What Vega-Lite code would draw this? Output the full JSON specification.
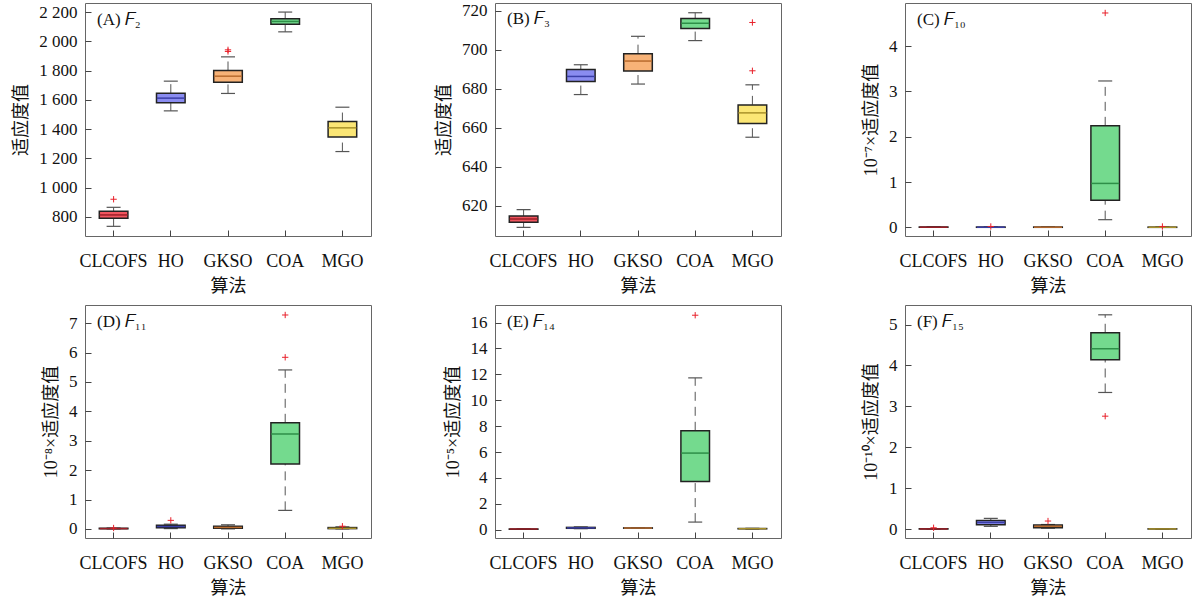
{
"$schema": "https://vega.github.io/schema/vega-lite/v6.json",
"padding": {"left": 12, "top": 1, "right": 5, "bottom": 5},
"background": "white",
"datasets": {
"boxes": [
{"panel":"A","algo":"CLCOFS","lower":736,"q1":791,"median":814,"q3":839,"upper":866},
{"panel":"A","algo":"HO","lower":1525,"q1":1580,"median":1612,"q3":1646,"upper":1728},
{"panel":"A","algo":"GKSO","lower":1644,"q1":1721,"median":1762,"q3":1801,"upper":1894},
{"panel":"A","algo":"COA","lower":2065,"q1":2116,"median":2136,"q3":2154,"upper":2200},
{"panel":"A","algo":"MGO","lower":1247,"q1":1347,"median":1409,"q3":1452,"upper":1550},
{"panel":"B","algo":"CLCOFS","lower":608.8,"q1":611.4,"median":613.1,"q3":614.7,"upper":617.9},
{"panel":"B","algo":"HO","lower":677.0,"q1":683.7,"median":686.3,"q3":689.9,"upper":692.3},
{"panel":"B","algo":"GKSO","lower":682.4,"q1":689.1,"median":694.2,"q3":698.0,"upper":706.9},
{"panel":"B","algo":"COA","lower":704.7,"q1":710.9,"median":713.6,"q3":716.0,"upper":719.0},
{"panel":"B","algo":"MGO","lower":655.1,"q1":662.1,"median":667.6,"q3":671.7,"upper":682.0},
{"panel":"C","algo":"CLCOFS","lower":0,"q1":0.002,"median":0.004,"q3":0.008,"upper":0.012},
{"panel":"C","algo":"HO","lower":0,"q1":0.002,"median":0.004,"q3":0.008,"upper":0.012},
{"panel":"C","algo":"GKSO","lower":0,"q1":0.002,"median":0.004,"q3":0.008,"upper":0.012},
{"panel":"C","algo":"COA","lower":0.17,"q1":0.60,"median":0.97,"q3":2.24,"upper":3.23},
{"panel":"C","algo":"MGO","lower":0,"q1":0.001,"median":0.003,"q3":0.006,"upper":0.01},
{"panel":"D","algo":"CLCOFS","lower":0,"q1":0.005,"median":0.01,"q3":0.02,"upper":0.03},
{"panel":"D","algo":"HO","lower":0.01,"q1":0.04,"median":0.08,"q3":0.12,"upper":0.16},
{"panel":"D","algo":"GKSO","lower":0,"q1":0.02,"median":0.05,"q3":0.09,"upper":0.14},
{"panel":"D","algo":"COA","lower":0.63,"q1":2.21,"median":3.23,"q3":3.61,"upper":5.41},
{"panel":"D","algo":"MGO","lower":0,"q1":0.01,"median":0.02,"q3":0.045,"upper":0.07},
{"panel":"E","algo":"CLCOFS","lower":0.02,"q1":0.04,"median":0.05,"q3":0.06,"upper":0.08},
{"panel":"E","algo":"HO","lower":0.08,"q1":0.11,"median":0.14,"q3":0.18,"upper":0.22},
{"panel":"E","algo":"GKSO","lower":0.1,"q1":0.12,"median":0.13,"q3":0.14,"upper":0.16},
{"panel":"E","algo":"COA","lower":0.59,"q1":3.73,"median":5.92,"q3":7.64,"upper":11.73},
{"panel":"E","algo":"MGO","lower":0.05,"q1":0.07,"median":0.08,"q3":0.09,"upper":0.11},
{"panel":"F","algo":"CLCOFS","lower":0,"q1":0.001,"median":0.002,"q3":0.004,"upper":0.006},
{"panel":"F","algo":"HO","lower":0.065,"q1":0.106,"median":0.16,"q3":0.21,"upper":0.26},
{"panel":"F","algo":"GKSO","lower":0.02,"q1":0.033,"median":0.065,"q3":0.098,"upper":0.11},
{"panel":"F","algo":"COA","lower":3.34,"q1":4.14,"median":4.41,"q3":4.80,"upper":5.24},
{"panel":"F","algo":"MGO","lower":0,"q1":0.001,"median":0.002,"q3":0.003,"upper":0.004}
],
"outliers": [
{"panel":"A","algo":"CLCOFS","value":921},
{"panel":"A","algo":"GKSO","value":1942},
{"panel":"A","algo":"GKSO","value":1931},
{"panel":"B","algo":"MGO","value":714.0},
{"panel":"B","algo":"MGO","value":689.2},
{"panel":"C","algo":"HO","value":0.02},
{"panel":"C","algo":"COA","value":4.73},
{"panel":"C","algo":"MGO","value":0.02},
{"panel":"D","algo":"CLCOFS","value":0.03},
{"panel":"D","algo":"HO","value":0.29},
{"panel":"D","algo":"COA","value":7.28},
{"panel":"D","algo":"COA","value":5.84},
{"panel":"D","algo":"MGO","value":0.09},
{"panel":"E","algo":"COA","value":16.57},
{"panel":"F","algo":"CLCOFS","value":0.03},
{"panel":"F","algo":"GKSO","value":0.195},
{"panel":"F","algo":"COA","value":2.76}
]
},
"columns": 3,
"spacing": {"row": 69, "column": 124},
"bounds": "flush",
"concat": [
{
"width": 286, "height": 233,
"title": {"text": "(A) 𝐹₂"},
"data": {"name": "boxes"},
"transform": [{"filter": "datum.panel === 'A'"}],
"encoding": {"x": {"field": "algo", "type": "nominal", "title": "算法", "scale": {"domain": ["CLCOFS","HO","GKSO","COA","MGO"], "paddingInner": 0, "paddingOuter": 0}}},
"layer": [
{"mark": {"type": "rule", "color": "#555", "strokeDash": [9,6], "strokeWidth": 1}, "encoding": {"y": {"field": "lower", "type": "quantitative", "scale": {"domain": [670, 2262], "nice": false, "zero": false}, "axis": {"values": [800,1000,1200,1400,1600,1800,2000,2200], "labelExpr": "replace(format(datum.value, ','), ',', ' ')"}, "title": "适应度值"}, "y2": {"field": "q1"}}},
{"mark": {"type": "rule", "color": "#555", "strokeDash": [9,6], "strokeWidth": 1}, "encoding": {"y": {"field": "q3", "type": "quantitative", "scale": {"domain": [670, 2262], "nice": false, "zero": false}, "axis": {"values": [800,1000,1200,1400,1600,1800,2000,2200], "labelExpr": "replace(format(datum.value, ','), ',', ' ')"}, "title": "适应度值"}, "y2": {"field": "upper"}}},
{"mark": {"type": "tick", "color": "#555", "size": 14, "thickness": 1.2, "opacity": 1}, "encoding": {"y": {"field": "lower", "type": "quantitative", "scale": {"domain": [670, 2262], "nice": false, "zero": false}, "axis": {"values": [800,1000,1200,1400,1600,1800,2000,2200], "labelExpr": "replace(format(datum.value, ','), ',', ' ')"}, "title": "适应度值"}}},
{"mark": {"type": "tick", "color": "#555", "size": 14, "thickness": 1.2, "opacity": 1}, "encoding": {"y": {"field": "upper", "type": "quantitative", "scale": {"domain": [670, 2262], "nice": false, "zero": false}, "axis": {"values": [800,1000,1200,1400,1600,1800,2000,2200], "labelExpr": "replace(format(datum.value, ','), ',', ' ')"}, "title": "适应度值"}}},
{"mark": {"type": "bar", "width": {"band": 0.5}, "stroke": "#222", "strokeWidth": 1.5, "opacity": 1}, "encoding": {"y": {"field": "q1", "type": "quantitative", "scale": {"domain": [670, 2262], "nice": false, "zero": false}, "axis": {"values": [800,1000,1200,1400,1600,1800,2000,2200], "labelExpr": "replace(format(datum.value, ','), ',', ' ')"}, "title": "适应度值"}, "y2": {"field": "q3"}, "fill": {"field": "algo", "type": "nominal", "scale": {"domain": ["CLCOFS","HO","GKSO","COA","MGO"], "range": ["#F0555F","#8A8CF0","#F7B277","#74DA8E","#FBE675"]}, "legend": null}}},
{"mark": {"type": "tick", "size": 28, "thickness": 1.5, "opacity": 1}, "encoding": {"y": {"field": "median", "type": "quantitative", "scale": {"domain": [670, 2262], "nice": false, "zero": false}, "axis": {"values": [800,1000,1200,1400,1600,1800,2000,2200], "labelExpr": "replace(format(datum.value, ','), ',', ' ')"}, "title": "适应度值"}, "color": {"field": "algo", "type": "nominal", "scale": {"domain": ["CLCOFS","HO","GKSO","COA","MGO"], "range": ["#9E1F27","#3B3FA8","#B86B2E","#2E8F48","#A8912A"]}, "legend": null}}},
{"data": {"name": "outliers"}, "transform": [{"filter": "datum.panel === 'A'"}], "mark": {"type": "point", "shape": "M-1,0H1M0,-1V1", "size": 40, "filled": false, "stroke": "#E8202A", "strokeWidth": 1, "opacity": 1}, "encoding": {"y": {"field": "value", "type": "quantitative", "scale": {"domain": [670, 2262], "nice": false, "zero": false}, "axis": {"values": [800,1000,1200,1400,1600,1800,2000,2200], "labelExpr": "replace(format(datum.value, ','), ',', ' ')"}, "title": "适应度值"}}}
]
},
{
"width": 286, "height": 233,
"title": {"text": "(B) 𝐹₃"},
"data": {"name": "boxes"},
"transform": [{"filter": "datum.panel === 'B'"}],
"encoding": {"x": {"field": "algo", "type": "nominal", "title": "算法", "scale": {"domain": ["CLCOFS","HO","GKSO","COA","MGO"], "paddingInner": 0, "paddingOuter": 0}}},
"layer": [
{"mark": {"type": "rule", "color": "#555", "strokeDash": [9,6], "strokeWidth": 1}, "encoding": {"y": {"field": "lower", "type": "quantitative", "scale": {"domain": [604.4, 724], "nice": false, "zero": false}, "axis": {"values": [620,640,660,680,700,720]}, "title": "适应度值"}, "y2": {"field": "q1"}}},
{"mark": {"type": "rule", "color": "#555", "strokeDash": [9,6], "strokeWidth": 1}, "encoding": {"y": {"field": "q3", "type": "quantitative", "scale": {"domain": [604.4, 724], "nice": false, "zero": false}, "axis": {"values": [620,640,660,680,700,720]}, "title": "适应度值"}, "y2": {"field": "upper"}}},
{"mark": {"type": "tick", "color": "#555", "size": 14, "thickness": 1.2, "opacity": 1}, "encoding": {"y": {"field": "lower", "type": "quantitative", "scale": {"domain": [604.4, 724], "nice": false, "zero": false}, "axis": {"values": [620,640,660,680,700,720]}, "title": "适应度值"}}},
{"mark": {"type": "tick", "color": "#555", "size": 14, "thickness": 1.2, "opacity": 1}, "encoding": {"y": {"field": "upper", "type": "quantitative", "scale": {"domain": [604.4, 724], "nice": false, "zero": false}, "axis": {"values": [620,640,660,680,700,720]}, "title": "适应度值"}}},
{"mark": {"type": "bar", "width": {"band": 0.5}, "stroke": "#222", "strokeWidth": 1.5, "opacity": 1}, "encoding": {"y": {"field": "q1", "type": "quantitative", "scale": {"domain": [604.4, 724], "nice": false, "zero": false}, "axis": {"values": [620,640,660,680,700,720]}, "title": "适应度值"}, "y2": {"field": "q3"}, "fill": {"field": "algo", "type": "nominal", "scale": {"domain": ["CLCOFS","HO","GKSO","COA","MGO"], "range": ["#F0555F","#8A8CF0","#F7B277","#74DA8E","#FBE675"]}, "legend": null}}},
{"mark": {"type": "tick", "size": 28, "thickness": 1.5, "opacity": 1}, "encoding": {"y": {"field": "median", "type": "quantitative", "scale": {"domain": [604.4, 724], "nice": false, "zero": false}, "axis": {"values": [620,640,660,680,700,720]}, "title": "适应度值"}, "color": {"field": "algo", "type": "nominal", "scale": {"domain": ["CLCOFS","HO","GKSO","COA","MGO"], "range": ["#9E1F27","#3B3FA8","#B86B2E","#2E8F48","#A8912A"]}, "legend": null}}},
{"data": {"name": "outliers"}, "transform": [{"filter": "datum.panel === 'B'"}], "mark": {"type": "point", "shape": "M-1,0H1M0,-1V1", "size": 40, "filled": false, "stroke": "#E8202A", "strokeWidth": 1, "opacity": 1}, "encoding": {"y": {"field": "value", "type": "quantitative", "scale": {"domain": [604.4, 724], "nice": false, "zero": false}, "axis": {"values": [620,640,660,680,700,720]}, "title": "适应度值"}}}
]
},
{
"width": 286, "height": 233,
"title": {"text": "(C) 𝐹₁₀"},
"data": {"name": "boxes"},
"transform": [{"filter": "datum.panel === 'C'"}],
"encoding": {"x": {"field": "algo", "type": "nominal", "title": "算法", "scale": {"domain": ["CLCOFS","HO","GKSO","COA","MGO"], "paddingInner": 0, "paddingOuter": 0}}},
"layer": [
{"mark": {"type": "rule", "color": "#555", "strokeDash": [9,6], "strokeWidth": 1}, "encoding": {"y": {"field": "lower", "type": "quantitative", "scale": {"domain": [-0.19, 4.95], "nice": false, "zero": false}, "axis": {"values": [0,1,2,3,4]}, "title": "10⁻⁷×适应度值"}, "y2": {"field": "q1"}}},
{"mark": {"type": "rule", "color": "#555", "strokeDash": [9,6], "strokeWidth": 1}, "encoding": {"y": {"field": "q3", "type": "quantitative", "scale": {"domain": [-0.19, 4.95], "nice": false, "zero": false}, "axis": {"values": [0,1,2,3,4]}, "title": "10⁻⁷×适应度值"}, "y2": {"field": "upper"}}},
{"mark": {"type": "tick", "color": "#555", "size": 14, "thickness": 1.2, "opacity": 1}, "encoding": {"y": {"field": "lower", "type": "quantitative", "scale": {"domain": [-0.19, 4.95], "nice": false, "zero": false}, "axis": {"values": [0,1,2,3,4]}, "title": "10⁻⁷×适应度值"}}},
{"mark": {"type": "tick", "color": "#555", "size": 14, "thickness": 1.2, "opacity": 1}, "encoding": {"y": {"field": "upper", "type": "quantitative", "scale": {"domain": [-0.19, 4.95], "nice": false, "zero": false}, "axis": {"values": [0,1,2,3,4]}, "title": "10⁻⁷×适应度值"}}},
{"mark": {"type": "bar", "width": {"band": 0.5}, "stroke": "#222", "strokeWidth": 1.5, "opacity": 1}, "encoding": {"y": {"field": "q1", "type": "quantitative", "scale": {"domain": [-0.19, 4.95], "nice": false, "zero": false}, "axis": {"values": [0,1,2,3,4]}, "title": "10⁻⁷×适应度值"}, "y2": {"field": "q3"}, "fill": {"field": "algo", "type": "nominal", "scale": {"domain": ["CLCOFS","HO","GKSO","COA","MGO"], "range": ["#F0555F","#8A8CF0","#F7B277","#74DA8E","#FBE675"]}, "legend": null}}},
{"mark": {"type": "tick", "size": 28, "thickness": 1.5, "opacity": 1}, "encoding": {"y": {"field": "median", "type": "quantitative", "scale": {"domain": [-0.19, 4.95], "nice": false, "zero": false}, "axis": {"values": [0,1,2,3,4]}, "title": "10⁻⁷×适应度值"}, "color": {"field": "algo", "type": "nominal", "scale": {"domain": ["CLCOFS","HO","GKSO","COA","MGO"], "range": ["#9E1F27","#3B3FA8","#B86B2E","#2E8F48","#A8912A"]}, "legend": null}}},
{"data": {"name": "outliers"}, "transform": [{"filter": "datum.panel === 'C'"}], "mark": {"type": "point", "shape": "M-1,0H1M0,-1V1", "size": 40, "filled": false, "stroke": "#E8202A", "strokeWidth": 1, "opacity": 1}, "encoding": {"y": {"field": "value", "type": "quantitative", "scale": {"domain": [-0.19, 4.95], "nice": false, "zero": false}, "axis": {"values": [0,1,2,3,4]}, "title": "10⁻⁷×适应度值"}}}
]
},
{
"width": 286, "height": 233,
"title": {"text": "(D) 𝐹₁₁"},
"data": {"name": "boxes"},
"transform": [{"filter": "datum.panel === 'D'"}],
"encoding": {"x": {"field": "algo", "type": "nominal", "title": "算法", "scale": {"domain": ["CLCOFS","HO","GKSO","COA","MGO"], "paddingInner": 0, "paddingOuter": 0}}},
"layer": [
{"mark": {"type": "rule", "color": "#555", "strokeDash": [9,6], "strokeWidth": 1}, "encoding": {"y": {"field": "lower", "type": "quantitative", "scale": {"domain": [-0.31, 7.62], "nice": false, "zero": false}, "axis": {"values": [0,1,2,3,4,5,6,7]}, "title": "10⁻⁸×适应度值"}, "y2": {"field": "q1"}}},
{"mark": {"type": "rule", "color": "#555", "strokeDash": [9,6], "strokeWidth": 1}, "encoding": {"y": {"field": "q3", "type": "quantitative", "scale": {"domain": [-0.31, 7.62], "nice": false, "zero": false}, "axis": {"values": [0,1,2,3,4,5,6,7]}, "title": "10⁻⁸×适应度值"}, "y2": {"field": "upper"}}},
{"mark": {"type": "tick", "color": "#555", "size": 14, "thickness": 1.2, "opacity": 1}, "encoding": {"y": {"field": "lower", "type": "quantitative", "scale": {"domain": [-0.31, 7.62], "nice": false, "zero": false}, "axis": {"values": [0,1,2,3,4,5,6,7]}, "title": "10⁻⁸×适应度值"}}},
{"mark": {"type": "tick", "color": "#555", "size": 14, "thickness": 1.2, "opacity": 1}, "encoding": {"y": {"field": "upper", "type": "quantitative", "scale": {"domain": [-0.31, 7.62], "nice": false, "zero": false}, "axis": {"values": [0,1,2,3,4,5,6,7]}, "title": "10⁻⁸×适应度值"}}},
{"mark": {"type": "bar", "width": {"band": 0.5}, "stroke": "#222", "strokeWidth": 1.5, "opacity": 1}, "encoding": {"y": {"field": "q1", "type": "quantitative", "scale": {"domain": [-0.31, 7.62], "nice": false, "zero": false}, "axis": {"values": [0,1,2,3,4,5,6,7]}, "title": "10⁻⁸×适应度值"}, "y2": {"field": "q3"}, "fill": {"field": "algo", "type": "nominal", "scale": {"domain": ["CLCOFS","HO","GKSO","COA","MGO"], "range": ["#F0555F","#8A8CF0","#F7B277","#74DA8E","#FBE675"]}, "legend": null}}},
{"mark": {"type": "tick", "size": 28, "thickness": 1.5, "opacity": 1}, "encoding": {"y": {"field": "median", "type": "quantitative", "scale": {"domain": [-0.31, 7.62], "nice": false, "zero": false}, "axis": {"values": [0,1,2,3,4,5,6,7]}, "title": "10⁻⁸×适应度值"}, "color": {"field": "algo", "type": "nominal", "scale": {"domain": ["CLCOFS","HO","GKSO","COA","MGO"], "range": ["#9E1F27","#3B3FA8","#B86B2E","#2E8F48","#A8912A"]}, "legend": null}}},
{"data": {"name": "outliers"}, "transform": [{"filter": "datum.panel === 'D'"}], "mark": {"type": "point", "shape": "M-1,0H1M0,-1V1", "size": 40, "filled": false, "stroke": "#E8202A", "strokeWidth": 1, "opacity": 1}, "encoding": {"y": {"field": "value", "type": "quantitative", "scale": {"domain": [-0.31, 7.62], "nice": false, "zero": false}, "axis": {"values": [0,1,2,3,4,5,6,7]}, "title": "10⁻⁸×适应度值"}}}
]
},
{
"width": 286, "height": 233,
"title": {"text": "(E) 𝐹₁₄"},
"data": {"name": "boxes"},
"transform": [{"filter": "datum.panel === 'E'"}],
"encoding": {"x": {"field": "algo", "type": "nominal", "title": "算法", "scale": {"domain": ["CLCOFS","HO","GKSO","COA","MGO"], "paddingInner": 0, "paddingOuter": 0}}},
"layer": [
{"mark": {"type": "rule", "color": "#555", "strokeDash": [9,6], "strokeWidth": 1}, "encoding": {"y": {"field": "lower", "type": "quantitative", "scale": {"domain": [-0.64, 17.36], "nice": false, "zero": false}, "axis": {"values": [0,2,4,6,8,10,12,14,16]}, "title": "10⁻⁵×适应度值"}, "y2": {"field": "q1"}}},
{"mark": {"type": "rule", "color": "#555", "strokeDash": [9,6], "strokeWidth": 1}, "encoding": {"y": {"field": "q3", "type": "quantitative", "scale": {"domain": [-0.64, 17.36], "nice": false, "zero": false}, "axis": {"values": [0,2,4,6,8,10,12,14,16]}, "title": "10⁻⁵×适应度值"}, "y2": {"field": "upper"}}},
{"mark": {"type": "tick", "color": "#555", "size": 14, "thickness": 1.2, "opacity": 1}, "encoding": {"y": {"field": "lower", "type": "quantitative", "scale": {"domain": [-0.64, 17.36], "nice": false, "zero": false}, "axis": {"values": [0,2,4,6,8,10,12,14,16]}, "title": "10⁻⁵×适应度值"}}},
{"mark": {"type": "tick", "color": "#555", "size": 14, "thickness": 1.2, "opacity": 1}, "encoding": {"y": {"field": "upper", "type": "quantitative", "scale": {"domain": [-0.64, 17.36], "nice": false, "zero": false}, "axis": {"values": [0,2,4,6,8,10,12,14,16]}, "title": "10⁻⁵×适应度值"}}},
{"mark": {"type": "bar", "width": {"band": 0.5}, "stroke": "#222", "strokeWidth": 1.5, "opacity": 1}, "encoding": {"y": {"field": "q1", "type": "quantitative", "scale": {"domain": [-0.64, 17.36], "nice": false, "zero": false}, "axis": {"values": [0,2,4,6,8,10,12,14,16]}, "title": "10⁻⁵×适应度值"}, "y2": {"field": "q3"}, "fill": {"field": "algo", "type": "nominal", "scale": {"domain": ["CLCOFS","HO","GKSO","COA","MGO"], "range": ["#F0555F","#8A8CF0","#F7B277","#74DA8E","#FBE675"]}, "legend": null}}},
{"mark": {"type": "tick", "size": 28, "thickness": 1.5, "opacity": 1}, "encoding": {"y": {"field": "median", "type": "quantitative", "scale": {"domain": [-0.64, 17.36], "nice": false, "zero": false}, "axis": {"values": [0,2,4,6,8,10,12,14,16]}, "title": "10⁻⁵×适应度值"}, "color": {"field": "algo", "type": "nominal", "scale": {"domain": ["CLCOFS","HO","GKSO","COA","MGO"], "range": ["#9E1F27","#3B3FA8","#B86B2E","#2E8F48","#A8912A"]}, "legend": null}}},
{"data": {"name": "outliers"}, "transform": [{"filter": "datum.panel === 'E'"}], "mark": {"type": "point", "shape": "M-1,0H1M0,-1V1", "size": 40, "filled": false, "stroke": "#E8202A", "strokeWidth": 1, "opacity": 1}, "encoding": {"y": {"field": "value", "type": "quantitative", "scale": {"domain": [-0.64, 17.36], "nice": false, "zero": false}, "axis": {"values": [0,2,4,6,8,10,12,14,16]}, "title": "10⁻⁵×适应度值"}}}
]
},
{
"width": 286, "height": 233,
"title": {"text": "(F) 𝐹₁₅"},
"data": {"name": "boxes"},
"transform": [{"filter": "datum.panel === 'F'"}],
"encoding": {"x": {"field": "algo", "type": "nominal", "title": "算法", "scale": {"domain": ["CLCOFS","HO","GKSO","COA","MGO"], "paddingInner": 0, "paddingOuter": 0}}},
"layer": [
{"mark": {"type": "rule", "color": "#555", "strokeDash": [9,6], "strokeWidth": 1}, "encoding": {"y": {"field": "lower", "type": "quantitative", "scale": {"domain": [-0.22, 5.48], "nice": false, "zero": false}, "axis": {"values": [0,1,2,3,4,5]}, "title": "10⁻¹⁰×适应度值"}, "y2": {"field": "q1"}}},
{"mark": {"type": "rule", "color": "#555", "strokeDash": [9,6], "strokeWidth": 1}, "encoding": {"y": {"field": "q3", "type": "quantitative", "scale": {"domain": [-0.22, 5.48], "nice": false, "zero": false}, "axis": {"values": [0,1,2,3,4,5]}, "title": "10⁻¹⁰×适应度值"}, "y2": {"field": "upper"}}},
{"mark": {"type": "tick", "color": "#555", "size": 14, "thickness": 1.2, "opacity": 1}, "encoding": {"y": {"field": "lower", "type": "quantitative", "scale": {"domain": [-0.22, 5.48], "nice": false, "zero": false}, "axis": {"values": [0,1,2,3,4,5]}, "title": "10⁻¹⁰×适应度值"}}},
{"mark": {"type": "tick", "color": "#555", "size": 14, "thickness": 1.2, "opacity": 1}, "encoding": {"y": {"field": "upper", "type": "quantitative", "scale": {"domain": [-0.22, 5.48], "nice": false, "zero": false}, "axis": {"values": [0,1,2,3,4,5]}, "title": "10⁻¹⁰×适应度值"}}},
{"mark": {"type": "bar", "width": {"band": 0.5}, "stroke": "#222", "strokeWidth": 1.5, "opacity": 1}, "encoding": {"y": {"field": "q1", "type": "quantitative", "scale": {"domain": [-0.22, 5.48], "nice": false, "zero": false}, "axis": {"values": [0,1,2,3,4,5]}, "title": "10⁻¹⁰×适应度值"}, "y2": {"field": "q3"}, "fill": {"field": "algo", "type": "nominal", "scale": {"domain": ["CLCOFS","HO","GKSO","COA","MGO"], "range": ["#F0555F","#8A8CF0","#F7B277","#74DA8E","#FBE675"]}, "legend": null}}},
{"mark": {"type": "tick", "size": 28, "thickness": 1.5, "opacity": 1}, "encoding": {"y": {"field": "median", "type": "quantitative", "scale": {"domain": [-0.22, 5.48], "nice": false, "zero": false}, "axis": {"values": [0,1,2,3,4,5]}, "title": "10⁻¹⁰×适应度值"}, "color": {"field": "algo", "type": "nominal", "scale": {"domain": ["CLCOFS","HO","GKSO","COA","MGO"], "range": ["#9E1F27","#3B3FA8","#B86B2E","#2E8F48","#A8912A"]}, "legend": null}}},
{"data": {"name": "outliers"}, "transform": [{"filter": "datum.panel === 'F'"}], "mark": {"type": "point", "shape": "M-1,0H1M0,-1V1", "size": 40, "filled": false, "stroke": "#E8202A", "strokeWidth": 1, "opacity": 1}, "encoding": {"y": {"field": "value", "type": "quantitative", "scale": {"domain": [-0.22, 5.48], "nice": false, "zero": false}, "axis": {"values": [0,1,2,3,4,5]}, "title": "10⁻¹⁰×适应度值"}}}
]
}
],
"config": {
"font": "Liberation Serif",
"view": {"stroke": "#666", "strokeWidth": 1},
"axis": {"labelFont": "Liberation Serif", "labelFontSize": 17, "labelColor": "#111", "titleFont": "Liberation Serif, Noto Sans CJK SC", "titleFontSize": 18, "titleFontWeight": "normal", "titleColor": "#111", "domain": false, "offset": -6, "ticks": true, "tickColor": "#444", "tickWidth": 1, "tickSize": 6, "grid": false, "labelPadding": 8, "titlePadding": 8},
"axisX": {"labelAngle": 0, "labelFontSize": 18, "labelPadding": 16, "titlePadding": 7},
"title": {"anchor": "start", "frame": "group", "offset": -26, "dx": 12, "fontSize": 17, "font": "Liberation Serif", "fontWeight": "normal", "color": "#111"}
}
}
